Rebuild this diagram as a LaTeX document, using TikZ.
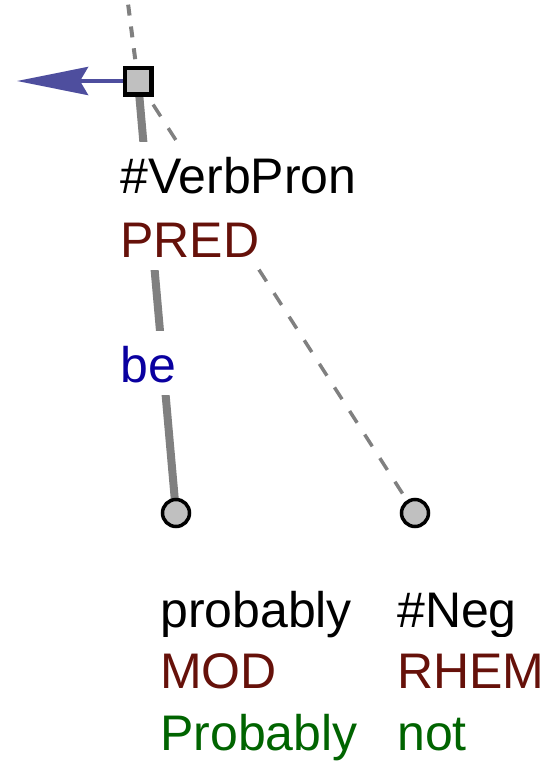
\documentclass[tikz,border=0pt]{standalone}
\usepackage{fontspec}
\setmainfont{Liberation Sans}
\usetikzlibrary{arrows.meta,backgrounds}
\definecolor{nodegray}{RGB}{192,192,192}
\definecolor{edgegray}{RGB}{128,128,128}
\definecolor{arrblue}{RGB}{78,78,158}
\definecolor{funcred}{RGB}{102,17,10}
\definecolor{lemblue}{RGB}{10,0,160}
\definecolor{glossgreen}{RGB}{0,100,0}
\tikzset{
 lbl/.style={anchor=base west, inner sep=0pt, fill=white, text height=51pt, text depth=13pt},
 tnode/.style={draw, fill=nodegray, line width=4.5pt, inner sep=0pt, minimum size=26.5pt},
 leaf/.style={circle, draw, fill=nodegray, line width=3.5pt, inner sep=0pt, minimum size=27pt}
}

\begin{document}
\begin{tikzpicture}[x=1pt,y=-1pt,font=\fontsize{50}{60}\selectfont]
\useasboundingbox (0,0) rectangle (546,761);
\node[tnode] (v) at (138,81) {};
\node[leaf] (p) at (176,513) {};
\node[leaf] (n) at (415,513) {};
\coordinate (up) at (126,-12);
\coordinate (tip) at (17,81);
% labels
\node[lbl] (verb) at (120,193) {\#VerbPron};
\node[lbl,text=funcred] (pred) at (120,257) {PRED};
\node[lbl,text=lemblue] (be) at (120,382) {be};
\node[lbl] (prob) at (160,627) {probably};
\node[lbl,text=funcred] (mod) at (160,688) {MOD};
\node[lbl,text=glossgreen] (Prob) at (160,750) {Probably};
\node[lbl] (neg) at (397,627) {\#Neg};
\node[lbl,text=funcred] (rhem) at (397,688) {RHEM};
\node[lbl,text=glossgreen] (not) at (397,750) {not};
% edges
\begin{scope}[on background layer]
 \draw[edgegray, line width=4pt, dash pattern=on 11pt off 11pt] (v.center) -- (up);
 \draw[edgegray, line width=8pt] (v.center) -- (p.center);
 \draw[edgegray, line width=3.5pt, dash pattern=on 14pt off 14pt] (v.center) -- (n.center);
\end{scope}
\draw[arrblue, line width=4.5pt, -{Stealth[length=71pt,width=28pt,inset=8pt]}] (v) -- (tip);
\end{tikzpicture}
\end{document}
